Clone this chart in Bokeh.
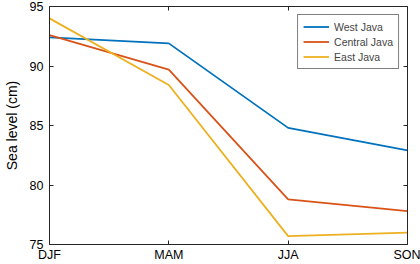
from bokeh.plotting import figure
from bokeh.models import (Range1d, FixedTicker, LinearAxis, Legend, LegendItem)
from bokeh.embed import file_html
from bokeh.resources import INLINE

seasons = ["DJF", "MAM", "JJA", "SON"]
west_java = [92.4, 91.9, 84.8, 82.9]
central_java = [92.6, 89.7, 78.8, 77.8]
east_java = [94.0, 88.4, 75.7, 76.0]
y_ticks = [75, 80, 85, 90, 95]

x = list(range(len(seasons)))

FONT = "Liberation Sans"
AX = "#262626"

p = figure(width=420, height=264, output_backend="svg", toolbar_location=None,
           x_range=Range1d(0, len(seasons) - 1), y_range=Range1d(75, 95),
           min_border_left=44, min_border_right=13, min_border_top=6,
           min_border_bottom=18)
p.background_fill_color = "white"
p.border_fill_color = "white"
p.outline_line_color = None
p.xgrid.visible = False
p.ygrid.visible = False

xt = FixedTicker(ticks=x)
yt = FixedTicker(ticks=y_ticks)

xa = p.xaxis[0]
xa.ticker = xt
xa.major_label_overrides = {i: s for i, s in enumerate(seasons)}
ya = p.yaxis[0]
ya.ticker = yt
ya.axis_label = "Sea level (cm)"

for ax in (xa, ya):
    ax.major_tick_in = 4
    ax.major_tick_out = 0
    ax.minor_tick_line_color = None
    ax.axis_line_color = AX
    ax.major_tick_line_color = AX
    ax.major_label_text_font = FONT
    ax.major_label_text_font_size = "12.5px"
    ax.major_label_text_color = "black"
xa.major_label_standoff = 3
ya.major_label_standoff = 6
ya.axis_label_text_font = FONT
ya.axis_label_text_font_size = "14px"
ya.axis_label_text_font_style = "normal"
ya.axis_label_text_color = "black"
ya.axis_label_standoff = 7

top = LinearAxis(ticker=xt, major_label_text_font_size="0px",
                 major_label_text_color=None, major_label_standoff=0,
                 major_tick_in=4, major_tick_out=0, minor_tick_line_color=None,
                 axis_line_color=AX, major_tick_line_color=AX)
right = LinearAxis(ticker=yt, major_label_text_font_size="0px",
                   major_label_text_color=None, major_label_standoff=0,
                   major_tick_in=4, major_tick_out=0, minor_tick_line_color=None,
                   axis_line_color=AX, major_tick_line_color=AX)
p.add_layout(top, "above")
p.add_layout(right, "right")

colors = ["#0072BD", "#D95319", "#EDB120"]
names = ["West Java", "Central Java", "East Java"]
items = []
for ys, c, n in zip([west_java, central_java, east_java], colors, names):
    r = p.line(x, ys, line_color=c, line_width=1.8)
    items.append(LegendItem(label=n, renderers=[r]))

leg = Legend(items=items, location="top_right", margin=8, padding=5,
             spacing=2, label_height=13, glyph_height=13, glyph_width=26,
             label_standoff=5, label_text_font=FONT, label_text_font_size="10.5px",
             border_line_color="black", border_line_width=1,
             background_fill_color="white", background_fill_alpha=1)
p.add_layout(leg, "center")

open("out.html", "w").write(file_html(p, INLINE))
